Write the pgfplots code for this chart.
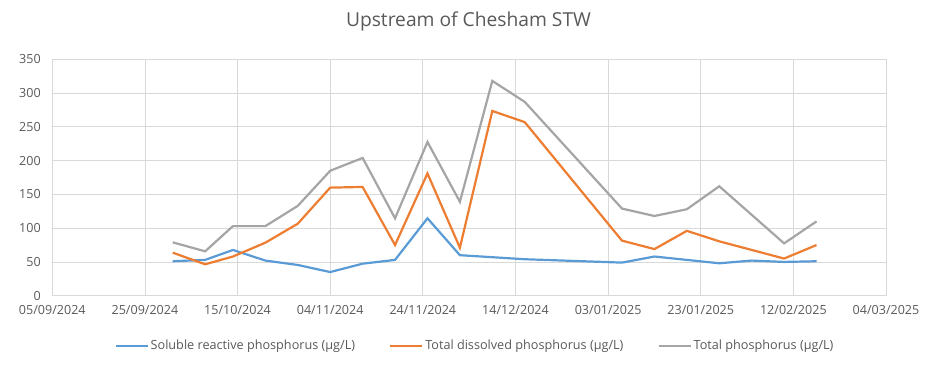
\documentclass[border=0pt]{standalone}
\usepackage{pgfplots}
\pgfplotsset{compat=1.18}
\usepackage{fontspec}
\setmainfont{Open Sans}
\definecolor{srp}{HTML}{5B9BD5}
\definecolor{tdp}{HTML}{ED7D31}
\definecolor{tp}{HTML}{A5A5A5}
\definecolor{gridc}{HTML}{D9D9D9}
\definecolor{txt}{HTML}{595959}
\begin{document}
\begin{tikzpicture}
\useasboundingbox (-52.3bp,-73.3bp) rectangle (886.7bp,295.7bp);
\begin{axis}[
 scale only axis, width=833.7bp, height=236.4bp,
 xmin=0, xmax=180, ymin=0, ymax=350,
 xtick={0,20,...,180},
 xticklabels={05/09/2024,25/09/2024,15/10/2024,04/11/2024,24/11/2024,14/12/2024,03/01/2025,23/01/2025,12/02/2025,04/03/2025},
 ytick={0,50,...,350},
 grid=major, grid style={gridc, line width=0.75bp},
 axis line style={gridc, line width=0.75bp},
 major tick length=0pt,
 tick label style={font=\fontsize{12.6}{15}\selectfont, text=txt},
 /pgf/number format/assume math mode=true,
 yticklabel style={xshift=-8bp},
 xticklabel style={yshift=-6bp},
 title={Upstream of Chesham STW},
 title style={font=\fontsize{19.3}{23}\selectfont, text=txt, at={(0.4992,1)}, anchor=center, yshift=32.3bp},
 legend columns=3,
 legend style={draw=none, fill=none, at={(0.507,0)}, anchor=center, yshift=-50bp, font=\fontsize{12.7}{15}\selectfont, text=txt, /tikz/every even column/.append style={column sep=32bp}},
 legend image code/.code={\draw[#1] (0bp,0bp) -- (32bp,0bp);},
 every axis plot/.append style={line width=2.2bp},
]
\addplot[srp] coordinates {(26,51) (33,53) (39,67.7) (46,52) (53,45.5) (60,35) (67,47.4) (74,53) (81,114.6) (88,60) (95,57) (102,54) (123,49) (130,58) (137,53) (144,48) (151,52) (158,50) (165,51)};
\addlegendentry{Soluble reactive phosphorus (µg/L)}
\addplot[tdp] coordinates {(26,63.7) (33,46.5) (39,58) (46,78.5) (53,106.6) (60,160) (67,161) (74,75) (81,181) (88,71) (95,273.5) (102,257) (123,81.5) (130,69) (137,96) (144,80.5) (158,55) (165,75)};
\addlegendentry{Total dissolved phosphorus (µg/L)}
\addplot[tp] coordinates {(26,79) (33,65.7) (39,103) (46,103) (53,133) (60,185) (67,204) (74,114.6) (81,227.6) (88,139) (95,318) (102,287) (123,129) (130,118) (137,128) (144,162) (158,77.5) (165,110)};
\addlegendentry{Total phosphorus (µg/L)}
\end{axis}
\end{tikzpicture}
\end{document}
